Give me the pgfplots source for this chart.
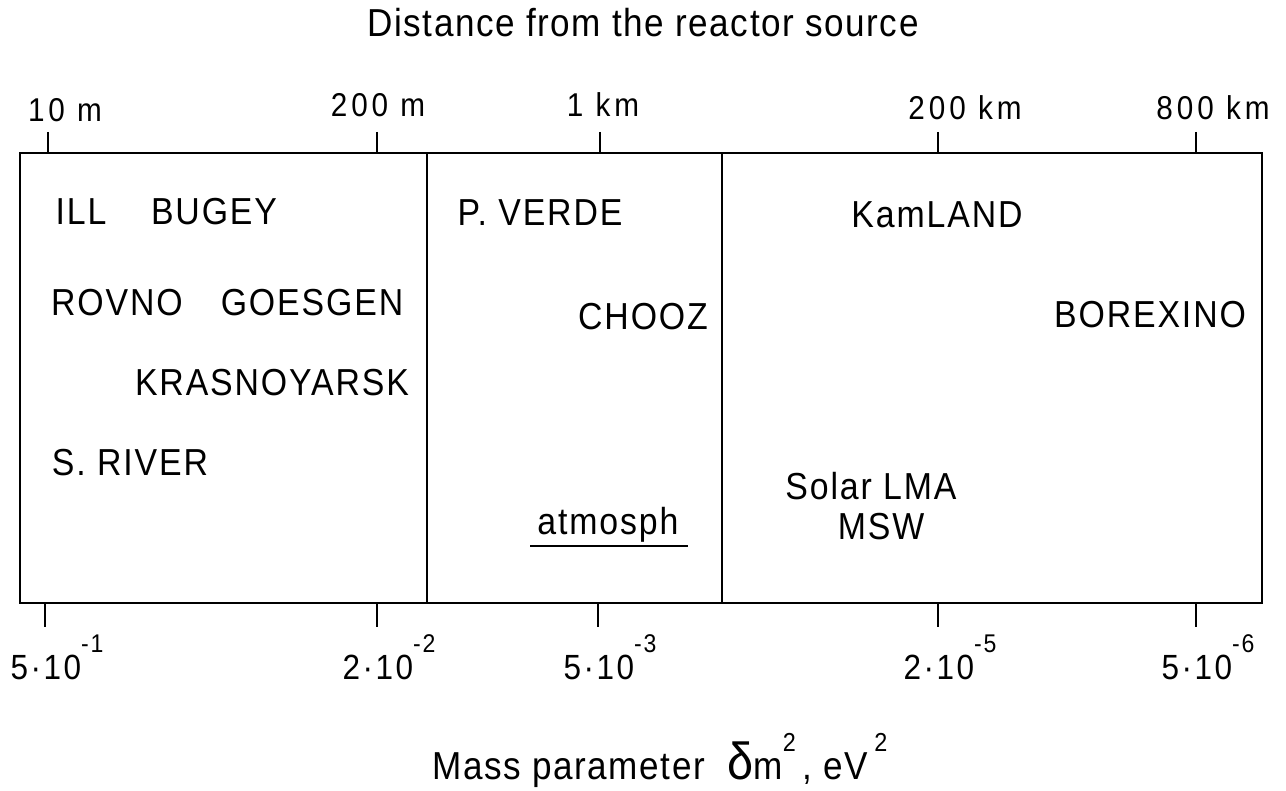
\documentclass[border=0pt]{standalone}
\usepackage{fontspec}
\setmainfont{Liberation Sans}[FakeStretch=0.9]
\usepackage{pgfplots}
\pgfplotsset{compat=1.18}
\newcommand{\inlab}{\fontsize{18.8}{22}\selectfont\addfontfeature{LetterSpace=5}}
\newcommand{\toplab}{\fontsize{16.5}{19}\selectfont\addfontfeature{LetterSpace=12}}
\newcommand{\botlab}{\fontsize{17.5}{20}\selectfont\addfontfeature{LetterSpace=7}}
\newcommand{\titlab}{\fontsize{19.5}{22}\selectfont\addfontfeature{LetterSpace=4}}
\newcommand{\sx}[1]{\raisebox{13.5pt}{\fontsize{12.8}{13}\selectfont #1}}
\newcommand{\sy}[1]{\raisebox{14pt}{\fontsize{13}{13}\selectfont #1}}
\begin{document}
\begin{tikzpicture}
\begin{axis}[
  scale only axis, width=621pt, height=225pt,
  xmin=20, xmax=1262, ymin=188, ymax=638,
  clip=false,
  axis line style={line width=1pt},
  xtick={45,377,598,938,1196},
  xticklabels={5·10\sx{-1}, 2·10\sx{-2}, 5·10\sx{-3}, 2·10\sx{-5}, 5·10\sx{-6}},
  xtick pos=left, ytick=\empty,
  tick align=outside, major tick length=12pt,
  tick style={line width=1pt, black},
  xticklabel style={font=\botlab, anchor=base, yshift=-26.5pt, xshift=6pt},
]
\addplot[black, line width=1pt] coordinates {(427,188) (427,638)};
\addplot[black, line width=1pt] coordinates {(722,188) (722,638)};
\addplot[black, line width=1pt] coordinates {(530,245) (688,245)};
\coordinate (bl) at (axis cs:0,0);
\coordinate (tr) at (axis cs:1286,791);
\begin{scope}[every node/.style={font=\inlab, inner sep=0pt, anchor=base}]
\node[font=\titlab] at (axis cs:643,754) {Distance from the reactor source};
\node[font=\toplab] at (axis cs:65,669) {10 m};
\node[font=\toplab] at (axis cs:378,674) {200 m};
\node[font=\toplab] at (axis cs:603,674) {1 km};
\node[font=\toplab] at (axis cs:965,671) {200 km};
\node[font=\toplab] at (axis cs:1213,671) {800 km};
\node at (axis cs:81,566) {ILL};
\node at (axis cs:214,566) {BUGEY};
\node at (axis cs:117,475) {ROVNO};
\node at (axis cs:312,475) {GOESGEN};
\node at (axis cs:272,395) {KRASNOYARSK};
\node at (axis cs:130,315) {S. RIVER};
\node at (axis cs:540,565) {P. VERDE};
\node at (axis cs:643,461) {CHOOZ};
\node at (axis cs:608,256) {atmosph};
\node at (axis cs:937,563) {KamLAND};
\node at (axis cs:1150,463) {BOREXINO};
\node at (axis cs:871,291) {Solar LMA};
\node at (axis cs:881,251) {MSW};
\node[font=\titlab] at (axis cs:660,11) {Mass parameter\ \ {\fontsize{26}{26}\selectfont δ}m\sy{2}\,, eV\,\sy{2}};
\end{scope}
\end{axis}
\begin{axis}[
  scale only axis, width=621pt, height=225pt,
  xmin=20, xmax=1262, ymin=188, ymax=638,
  axis line style={line width=1pt},
  xtick={48,377,600,938,1196},
  xticklabels={},
  xtick pos=right, ytick=\empty,
  tick align=outside, major tick length=10.5pt,
  tick style={line width=1pt, black},
]
\addplot[draw=none] coordinates {(400,400)};
\end{axis}
\pgfresetboundingbox
\path[use as bounding box] (bl) rectangle (tr);
\end{tikzpicture}
\end{document}
